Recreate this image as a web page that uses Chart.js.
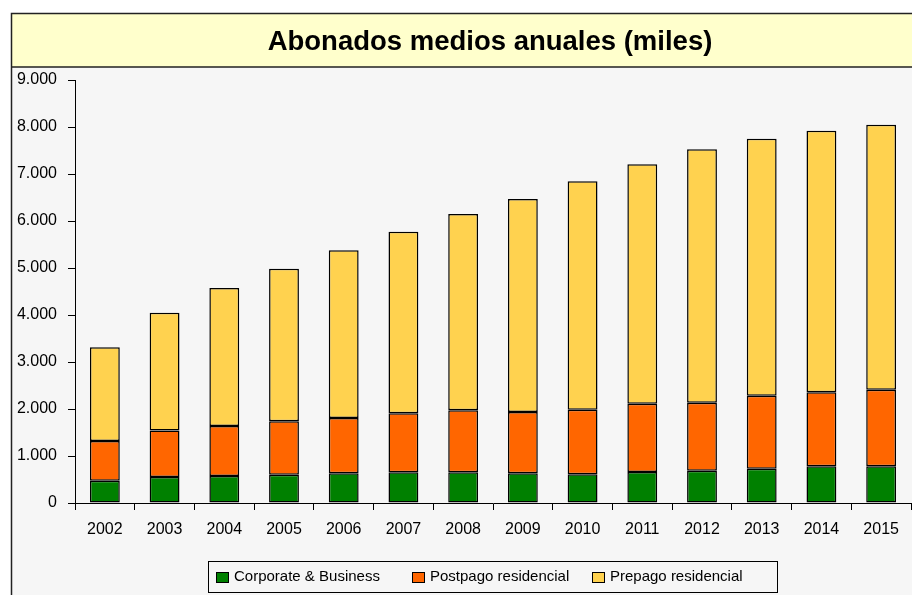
<!DOCTYPE html>
<html>
<head>
<meta charset="utf-8">
<title>Abonados medios anuales (miles)</title>
<script src="https://cdn.jsdelivr.net/npm/chart.js@4.4.1/dist/chart.umd.min.js"></script>
<style>
  html, body { margin: 0; padding: 0; background: #fff; }
  #wrap { width: 912px; height: 595px; }
</style>
</head>
<body>
<div id="wrap"><canvas id="abonados-chart" width="912" height="595"></canvas></div>
<script>
// Datos (miles de abonados)
const years = ['2002', '2003', '2004', '2005', '2006', '2007', '2008', '2009', '2010', '2011', '2012', '2013', '2014', '2015'];
const corporate = [475, 553, 574, 603, 631, 653, 653, 631, 610, 660, 688, 730, 780, 780];
const postpago = [844, 987, 1064, 1135, 1178, 1255, 1319, 1305, 1375, 1453, 1446, 1553, 1575, 1630];
const prepago = [1994, 2510, 2936, 3247, 3567, 3865, 4177, 4532, 4860, 5093, 5391, 5469, 5565, 5640];
const seriesNames = ['Corporate & Business', 'Postpago residencial', 'Prepago residencial'];
const chartTitle = 'Abonados medios anuales (miles)';

const COLORS = ['#008000', '#FF6600', '#FFD24F'];
const SMALL_FONT = "'Liberation Sans', Arial, sans-serif";

// 9000 -> "9.000"
function fmt(v) {
    return String(v).replace(/\B(?=(\d{3})+(?!\d))/g, '.');
}

// Marco, banda del titulo y leyenda
const framePlugin = {
    id: 'frame',
    beforeDraw(chart) {
        const ctx = chart.ctx;
        ctx.save();
        ctx.fillStyle = '#ffffff';
        ctx.fillRect(0, 0, chart.width, chart.height);

        ctx.fillStyle = '#F6F6F6';
        ctx.fillRect(11, 13, chart.width - 11, chart.height - 13);

        ctx.fillStyle = '#FFFFCC';
        ctx.fillRect(11, 13, chart.width - 11, 54);

        ctx.strokeStyle = '#222';
        ctx.lineWidth = 1.5;
        ctx.beginPath();
        ctx.moveTo(11.5, chart.height);
        ctx.lineTo(11.5, 13.5);
        ctx.lineTo(chart.width, 13.5);
        ctx.moveTo(11, 67);
        ctx.lineTo(chart.width, 67);
        ctx.stroke();

        ctx.fillStyle = '#000';
        ctx.font = "bold 27.5px 'Liberation Sans', Arial, sans-serif";
        ctx.textAlign = 'center';
        ctx.textBaseline = 'middle';
        ctx.fillText(chartTitle, 490, 42);
        ctx.restore();
    },
    afterDraw(chart) {
        const ctx = chart.ctx;
        ctx.save();
        ctx.strokeStyle = '#000';
        ctx.lineWidth = 1;
        ctx.strokeRect(208.5, 561.5, 569, 31);

        const itemX = [216, 412, 592];
        ctx.font = '15px ' + SMALL_FONT;
        ctx.textBaseline = 'middle';
        ctx.textAlign = 'left';
        chart.data.datasets.forEach((ds, i) => {
            ctx.fillStyle = ds.backgroundColor;
            ctx.fillRect(itemX[i], 572, 12, 10);
            ctx.strokeRect(itemX[i] + 0.5, 572.5, 12, 10);
            ctx.fillStyle = '#000';
            ctx.fillText(ds.label, itemX[i] + 18, 577);
        });
        ctx.restore();
    }
};

const ctx = document.getElementById('abonados-chart').getContext('2d');

new Chart(ctx, {
    type: 'bar',
    data: {
        labels: years,
        datasets: [corporate, postpago, prepago].map((values, i) => ({
            label: seriesNames[i],
            data: values,
            backgroundColor: COLORS[i],
            borderColor: '#000',
            borderWidth: 1.5,
            borderSkipped: false,
            barPercentage: 0.5,
            categoryPercentage: 1
        }))
    },
    options: {
        responsive: false,
        animation: false,
        devicePixelRatio: 1,
        layout: { padding: { top: 80, right: 1, bottom: 0, left: 0 } },
        plugins: {
            legend: { display: false },
            title: { display: false },
            tooltip: { enabled: false }
        },
        scales: {
            x: {
                stacked: true,
                afterFit: (scale) => { scale.height = 92; },
                grid: { drawOnChartArea: false, drawTicks: true, tickLength: 7, color: '#000', offset: true },
                border: { color: '#000', width: 1 },
                ticks: { color: '#000', padding: 10, maxRotation: 0, font: { family: SMALL_FONT, size: 16 } }
            },
            y: {
                stacked: true,
                min: 0,
                max: 9000,
                afterFit: (scale) => { scale.width = 75; },
                grid: { drawOnChartArea: false, drawTicks: true, tickLength: 7, color: '#000' },
                border: { color: '#000', width: 1 },
                ticks: {
                    stepSize: 1000,
                    color: '#000',
                    padding: 11,
                    font: { family: SMALL_FONT, size: 16 },
                    callback: (v) => fmt(v)
                }
            }
        }
    },
    plugins: [framePlugin]
});
</script>
</body>
</html>
